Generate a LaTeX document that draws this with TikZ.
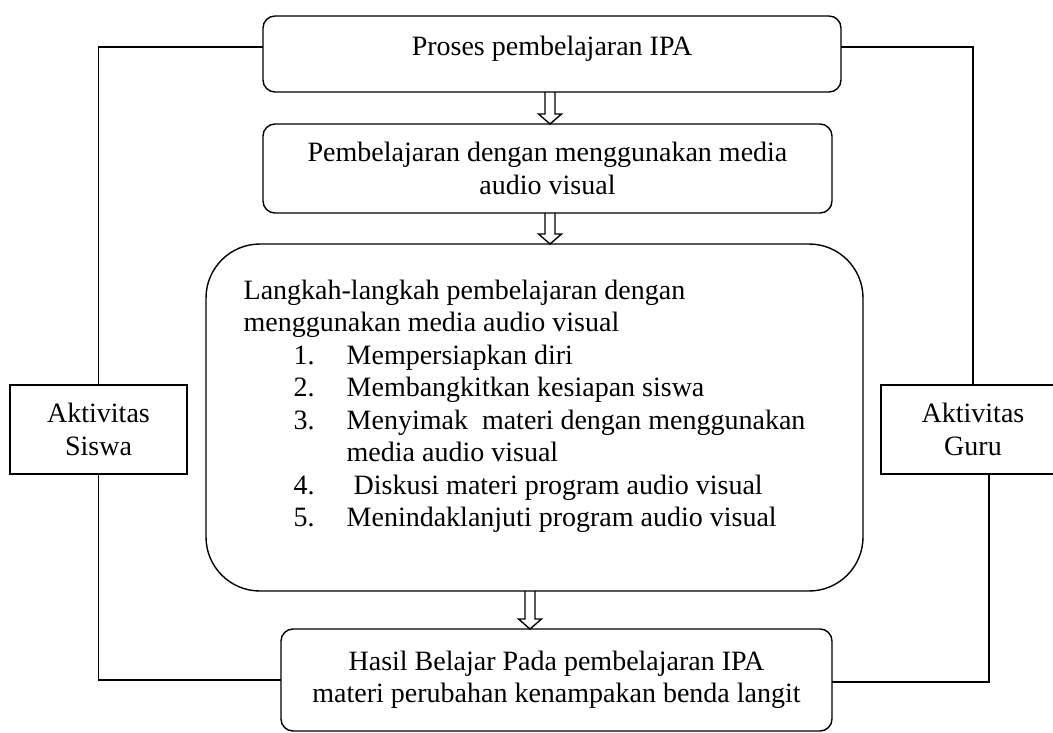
\documentclass[tikz,border=0pt]{standalone}
\usepackage{fontspec}
\setmainfont{Liberation Serif}
\usepackage{tikz}
\usetikzlibrary{calc, positioning}

% Hollow block arrow from point #1 down to tip #2
\newcommand{\hollowarrow}[2]{%
  \draw[line join=miter] ($(#1)+(-5,0)$) -- ($(#2)+(-5,-10)$) -- ($(#2)+(-11.5,-10)$) -- (#2)
    -- ($(#2)+(11.5,-10)$) -- ($(#2)+(5,-10)$) -- ($(#1)+(5,0)$);}

\begin{document}
\begin{tikzpicture}[x=1pt, y=-1pt, line width=1.4pt, font=\fontsize{28}{32.5}\selectfont]
        \tikzset{
          roundbox/.style={draw, rounded corners=12pt, inner sep=0pt, outer sep=0pt, align=center},
          sidebox/.style={draw, inner sep=0pt, outer sep=0pt, align=center, minimum height=89pt}
        }
        \useasboundingbox (0,0) rectangle (1053,733);

        \node[roundbox, minimum width=578pt, minimum height=76pt] (proses) at (552,54) {\raisebox{5pt}[\height][\depth]{Proses pembelajaran IPA}};
        \node[roundbox, minimum width=569pt, minimum height=89pt] (media) at (547.5,168.5) {Pembelajaran dengan menggunakan media\\ audio visual};
        \node[roundbox, rounded corners=54pt, minimum width=657pt, minimum height=347pt] (langkah) at (534.5,417.5) {};
        \node[roundbox, minimum width=551pt, minimum height=102pt] (hasil) at (556.5,680) {Hasil Belajar Pada pembelajaran IPA\\ materi perubahan kenampakan benda langit};

        \node[anchor=north west, inner sep=0pt, align=left] (steps) at (243,279) {Langkah-langkah pembelajaran dengan\\
          menggunakan media audio visual\\
          \hspace*{50pt}\makebox[53pt][l]{1.}Mempersiapkan diri\\
          \hspace*{50pt}\makebox[53pt][l]{2.}Membangkitkan kesiapan siswa\\
          \hspace*{50pt}\makebox[53pt][l]{3.}Menyimak\ \ materi dengan menggunakan\\
          \hspace*{103pt}media audio visual\\
          \hspace*{50pt}\makebox[53pt][l]{4.}\ Diskusi materi program audio visual\\
          \hspace*{50pt}\makebox[53pt][l]{5.}Menindaklanjuti program audio visual};

        \node[sidebox, minimum width=177pt] (siswa) at (98.5,429.5) {Aktivitas\\ Siswa};
        \node[sidebox, minimum width=184pt] (guru) at (973,429.5) {Aktivitas\\ Guru};

        \coordinate (a1) at ([xshift=-2pt]proses.south);
        \coordinate (a2) at ([xshift=2.5pt]media.south);
        \coordinate (a3) at ([xshift=-4.5pt]langkah.south);
        \hollowarrow{a1}{a1 |- media.north}
        \hollowarrow{a2}{a2 |- langkah.north}
        \hollowarrow{a3}{a3 |- hasil.north}

        \draw ([yshift=7pt]proses.west) -| (siswa.north);
        \draw (siswa.south) |- (hasil.west);
        \draw ([yshift=7pt]proses.east) -| (guru.north);
        \draw ([xshift=16pt]guru.south) |- ([yshift=-2pt]hasil.east);
\end{tikzpicture}
\end{document}
